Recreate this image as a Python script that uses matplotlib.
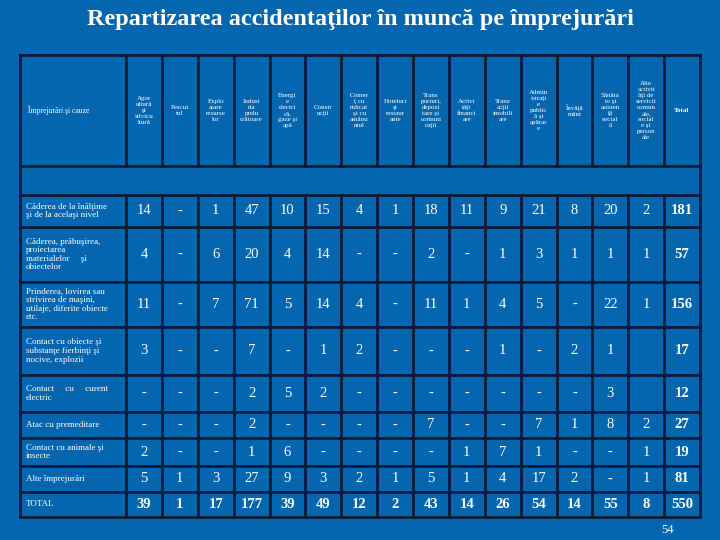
import matplotlib
matplotlib.use('Agg')
from matplotlib import pyplot as plt

title = 'Repartizarea accidentaţilor în muncă pe împrejurări'
col_heads = ['Agor\nultură\nşi\nsilvicu\nltură', 'Pescui\ntul', 'Explo\natare\nresurse\nlor',
             'Indust\nria\nprelu\ncrătoare', 'Energi\ne\nelectri\ncă,\ngaze şi\napă', 'Constr\nucţii',
             'Comer\nţ cu\nridicat\nşi cu\namănu\nntul', 'Hoteluri\nşi\nrestaur\nante',
             'Trans\nporturi,\ndepozi\ntare şi\ncomuni\ncaţii', 'Activi\ntăţi\nfinanci\nare',
             'Tranz\nacţii\nimobili\nare', 'Admin\nistraţi\ne\npublic\nă şi\napărar\ne',
             'Învăţă\nmânt', 'Sănăta\nte şi\nasisten\nţă\nsocial\nă',
             'Alte\nactivit\năţi de\nservicii\ncomun\nale,\nsocial\ne şi\nperson\nale', 'Total']
row_heads = ['Căderea de la înălţime\nşi de la acelaşi nivel',
             'Căderea, prăbuşirea,\nproiectarea\nmaterialelor     şi\nobiectelor',
             'Prinderea, lovirea sau\nstrivirea de maşini,\nutilaje, diferite obiecte\netc.',
             'Contact cu obiecte şi\nsubstanţe fierbinţi şi\nnocive, explozii',
             'Contact     cu     curent\nelectric',
             'Atac cu premeditare', 'Contact cu animale şi\ninsecte', 'Alte împrejurări', 'TOTAL']
values = [
    ['14', '-', '1', '47', '10', '15', '4', '1', '18', '11', '9', '21', '8', '20', '2', '181'],
    ['4', '-', '6', '20', '4', '14', '-', '-', '2', '-', '1', '3', '1', '1', '1', '57'],
    ['11', '-', '7', '71', '5', '14', '4', '-', '11', '1', '4', '5', '-', '22', '1', '156'],
    ['3', '-', '-', '7', '-', '1', '2', '-', '-', '-', '1', '-', '2', '1', '', '17'],
    ['-', '-', '-', '2', '5', '2', '-', '-', '-', '-', '-', '-', '-', '3', '', '12'],
    ['-', '-', '-', '2', '-', '-', '-', '-', '7', '-', '-', '7', '1', '8', '2', '27'],
    ['2', '-', '-', '1', '6', '-', '-', '-', '-', '1', '7', '1', '-', '-', '1', '19'],
    ['5', '1', '3', '27', '9', '3', '2', '1', '5', '1', '4', '17', '2', '-', '1', '81'],
    ['39', '1', '17', '177', '39', '49', '12', '2', '43', '14', '26', '54', '14', '55', '8', '550'],
]

bg = '#0566B0'
line = '#0A1A3A'
fig = plt.figure(figsize=(7.2, 5.4), dpi=100, facecolor=bg)
ax = fig.add_axes([0, 0, 1, 1])
ax.set_xlim(0, 720)
ax.set_ylim(540, 0)
ax.axis('off')

ax.text(360, 20, title, ha='center', va='center', fontsize=17.5, fontweight='bold',
        family='Liberation Serif', color='white')

x0, x1, xr = 20, 126, 700
cw = (xr - x1) / len(col_heads)
xs = [x0, x1] + [x1 + cw * (i + 1) for i in range(len(col_heads))]
ys = [55, 166, 195, 227, 282, 327, 375, 412, 438, 466, 492, 517]

for y in ys:
    ax.plot([x0, xr], [y, y], color=line, lw=2)
for i, x in enumerate(xs):
    if i in (0, len(xs) - 1):
        ax.plot([x, x], [ys[0], ys[-1]], color=line, lw=2)
    else:
        ax.plot([x, x], [ys[0], ys[1]], color=line, lw=2)
        ax.plot([x, x], [ys[2], ys[-1]], color=line, lw=2)

serif = 'Liberation Serif'
ax.text(x0 + 8, (ys[0] + ys[1]) / 2, 'Împrejurări şi cauze', ha='left', va='center',
        fontsize=5.5, family=serif, color='white')
for j, h in enumerate(col_heads):
    ax.text(x1 + cw * (j + 0.5), (ys[0] + ys[1]) / 2, h, ha='center', va='center',
            fontsize=5, family=serif, color='white', linespacing=1.25,
            fontweight='bold' if h == 'Total' else 'normal')

for i, (rh, row) in enumerate(zip(row_heads, values)):
    yc = (ys[i + 2] + ys[i + 3]) / 2
    ax.text(x0 + 6, yc, rh, ha='left', va='center', fontsize=6.5, family=serif,
            color='white', linespacing=1.1)
    for j, v in enumerate(row):
        last = j == len(row) - 1 or i == len(values) - 1
        ax.text(x1 + cw * (j + 0.5), yc, v, ha='center', va='center', fontsize=10.5,
                family=serif, color='white', fontweight='bold' if last else 'normal')

ax.text(668, 530, '54', ha='center', va='center', fontsize=9, family=serif, color='white')

fig.savefig('out.png', dpi=100, facecolor=bg)
